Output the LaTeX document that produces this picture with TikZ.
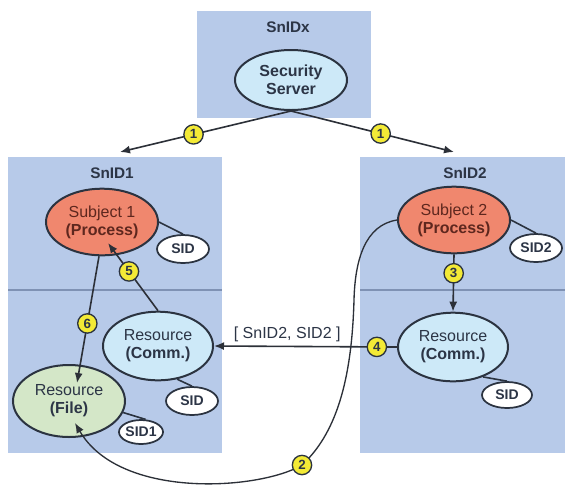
\documentclass[tikz,border=0pt]{standalone}
\usepackage{fontspec}
\setmainfont{Liberation Sans}
\usetikzlibrary{arrows.meta,shapes.geometric,calc}

\definecolor{zonefill}{HTML}{B7CAE9}
\definecolor{zoneline}{HTML}{7F92B4}
\definecolor{outline}{HTML}{2B3340}
\definecolor{skyfill}{HTML}{CDE9F8}
\definecolor{salmon}{HTML}{F0876E}
\definecolor{leaf}{HTML}{D4E7C8}
\definecolor{badgefill}{HTML}{F3EA36}
\definecolor{ink}{HTML}{2C3546}
\definecolor{rust}{HTML}{5E271E}
\definecolor{wire}{HTML}{2C3038}

\begin{document}
\begin{tikzpicture}[x=0.75pt,y=-0.75pt,
  zone/.style={fill=zonefill,draw=none},
  divider/.style={draw=zoneline,line width=0.8pt},
  zonelabel/.style={font=\bfseries\fontsize{11.5}{13}\selectfont,text=ink},
  blob/.style={ellipse,draw=outline,line width=1.5pt,inner sep=0pt,align=center,
    font=\fontsize{12}{13.5}\selectfont},
  server/.style={blob,fill=skyfill,text=ink,minimum width=84pt,minimum height=45pt},
  subject/.style={blob,fill=salmon,text=rust,minimum width=84pt,minimum height=50pt},
  comm/.style={blob,fill=skyfill,text=ink,minimum width=82.5pt,minimum height=51.5pt},
  filenode/.style={blob,fill=leaf,text=ink,minimum width=84pt,minimum height=54pt},
  sidtag/.style={ellipse,draw=outline,line width=1.3pt,fill=white,inner sep=0pt,text=ink,
    font=\bfseries\fontsize{10.5}{12}\selectfont,minimum width=39pt,minimum height=21pt},
  badge/.style={circle,fill=badgefill,draw=outline,line width=1pt,inner sep=0pt,
    minimum size=14.5pt,text=ink,font=\bfseries\fontsize{10}{10}\selectfont},
  flow/.style={draw=wire,line width=1.2pt,-{Latex[length=7.5pt,width=6pt]}},
  tie/.style={draw=outline,line width=1.2pt},
  lbl/.style={text=ink,font=\fontsize{12}{13}\selectfont,inner sep=1pt}
]
\useasboundingbox (0,0) rectangle (567,487);
\fill[white] (0,0) rectangle (567,487);

% security domains
\fill[zone] (197,11) rectangle (371,118);
\fill[zone] (8,157) rectangle (222,453);
\fill[zone] (360,157) rectangle (565,453);
\draw[divider] (8,290) -- (222,290);
\draw[divider] (360,290) -- (565,290);

\node[zonelabel] (lx) at (288,27) {SnIDx};
\node[zonelabel] (l1) at (112,173) {SnID1};
\node[zonelabel] (l2) at (465,173) {SnID2};

% entities
\node[server] (ss) at (291,80) {\textbf{Security}\\\textbf{Server}};
\node[subject] (sub1) at (102,222) {Subject 1\\\textbf{(Process)}};
\node[subject] (sub2) at (454,220) {Subject 2\\\textbf{(Process)}};
\node[comm] (rcl) at (158,346) {Resource\\\textbf{(Comm.)}};
\node[comm] (rcr) at (453,347) {Resource\\\textbf{(Comm.)}};
\node[filenode] (file) at (69,401) {Resource\\\textbf{(File)}};

% security identifiers
\node[sidtag] (sidA) at (183,249) {SID};
\node[sidtag] (sid2) at (536,248) {SID2};
\node[sidtag] (sidB) at (192,401) {SID};
\node[sidtag,minimum width=37.5pt,minimum height=19.5pt] (sidC) at (507,395) {SID};
\node[sidtag,minimum width=33pt,minimum height=18pt] (sid1) at (141,432) {SID1};

\draw[tie] (sub1.east) -- (sidA.north);
\draw[tie] (sub2.east) -- (sid2.north);
\draw[tie] (rcl.-60) -- (sidB.north);
\draw[tie] (rcr.-45) -- (sidC.north);
\draw[tie] (file.-12) -- (sid1.70);

% targets of the server's distribution arrows
\coordinate (t1) at (120,152);
\coordinate (t2) at (454,152);

\draw[flow] (ss.south) -- node[badge,pos=0.57] {1} (t1);
\draw[flow] (ss.south) -- node[badge,pos=0.55] {1} (t2);

\draw[flow] (sub2.south) -- node[badge,pos=0.33] {3} (rcr.north);

\draw[flow] (rcr.west) -- node[badge,pos=0.11] {4}
  node[lbl,pos=0.6,above=2pt] (msg) {[ SnID2, SID2 ]} (rcl.east);

\draw[flow] (rcl.north) -- node[badge,pos=0.58] {5} ($(sub1.center)+(6,21)$);

\draw[flow] (sub1.-95) -- node[badge,pos=0.53] {6} ($(file.center)+(8,-18)$);

\draw[flow,line width=1pt] (sub2.west)
  .. controls (365,225) and (355,260) .. (354,300)
  .. controls (352,370) and (340,430) .. (302,465) node[badge] {2}
  .. controls (260,490) and (120,500) .. ($(file.center)+(6,22)$);
\end{tikzpicture}
\end{document}
